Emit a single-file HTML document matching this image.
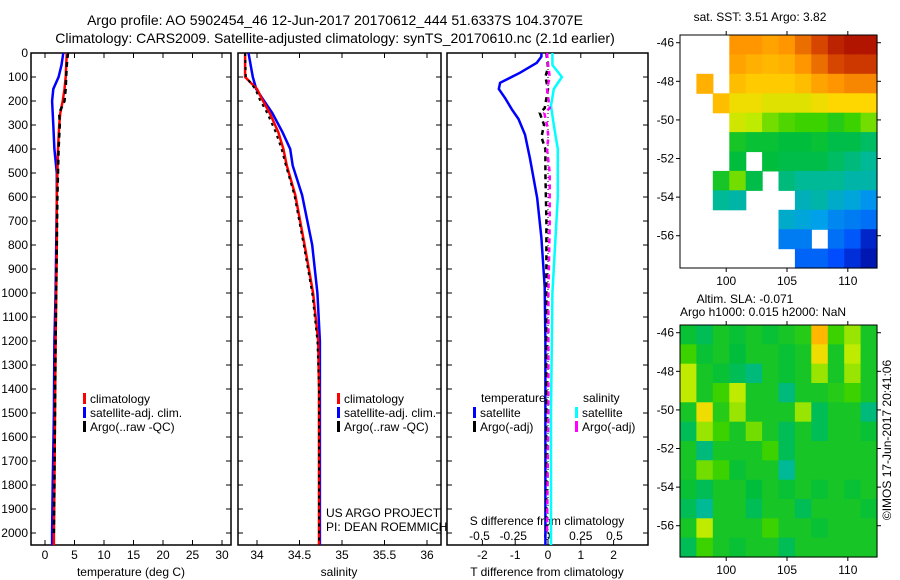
<!DOCTYPE html>
<html><head><meta charset="utf-8"><style>
body{margin:0;background:#fff;}
svg{display:block;font-family:"Liberation Sans",sans-serif;}
text{fill:#000;}
</style></head><body>
<svg id="chart" width="900" height="580" viewBox="0 0 900 580">
<text x="335" y="25" font-size="14" text-anchor="middle">Argo profile: AO 5902454_46 12-Jun-2017 20170612_444 51.6337S 104.3707E</text>
<text x="335" y="43" font-size="14" text-anchor="middle">Climatology: CARS2009. Satellite-adjusted climatology: synTS_20170610.nc (2.1d earlier)</text>
<text x="760" y="21" font-size="12" text-anchor="middle">sat. SST: 3.51 Argo: 3.82</text>
<text x="745" y="303" font-size="12" text-anchor="middle">Altim. SLA: -0.071</text>
<text x="763" y="316" font-size="12" text-anchor="middle">Argo h1000: 0.015 h2000: NaN</text>
<text transform="translate(891,440) rotate(-90)" font-size="12" text-anchor="middle">©IMOS 17-Jun-2017 20:41:06</text>
<text x="326" y="517" font-size="12">US ARGO PROJECT</text>
<text x="326" y="531" font-size="12">PI: DEAN ROEMMICH</text>
<g id="g"></g>
</svg>
<script>
// ---- data ----
const depthT = [0,50,100,150,200,250,300,400,500,600,800,1000,1200,1500,1800,2000,2050];
const climT  = [3.7,3.6,3.5,3.3,3.0,2.6,2.4,2.2,2.1,2.0,2.0,1.9,1.8,1.7,1.6,1.5,1.5];
const satT   = [3.1,2.8,2.3,1.4,1.2,1.3,1.4,1.6,2.0,2.0,1.9,1.8,1.6,1.5,1.3,1.2,1.2];
const argoDepth = [0,50,100,150,200,250,300,400,500,600,800,1000,1200,1500,1800,2000];
const argoT  = [3.9,3.7,3.6,3.5,3.3,2.4,2.5,2.3,2.2,2.1,2.0,1.9,1.8,1.7,1.6,1.5];
const depthS = [0,100,150,193,250,330,400,469,592,800,1000,1200,1400,2050];
const climS  = [33.86,33.86,34.0,34.06,34.15,34.25,34.31,34.35,34.45,34.56,34.66,34.72,34.73,34.73];
const satS   = [33.90,33.95,33.99,34.07,34.18,34.30,34.39,34.42,34.53,34.65,34.71,34.74,34.74,34.74];
const argoS  = [33.86,33.87,33.98,34.03,34.12,34.22,34.29,34.34,34.44,34.55,34.65,34.71,34.73,34.73];
const depthTd = [0,15,41,82,124,150,190,235,275,340,440,605,770,975,1200,1500,2000,2050];
const satTd   = [-0.2,-0.2,-0.34,-0.85,-1.46,-1.5,-1.3,-1.1,-0.9,-0.7,-0.55,-0.33,-0.2,-0.1,-0.08,-0.08,-0.08,-0.08];
const depthSd = [0,50,100,150,220,300,400,600,800,1000,1500,2050];
const satSd   = [0.04,0.04,0.11,0.05,0.03,0.05,0.08,0.08,0.06,0.04,0.03,0.03];
const depthAd = [0,60,100,150,230,250,300,350,400,500,700,1000,1500,2000];
const argoTd  = [-0.05,0.0,-0.08,0.0,-0.1,-0.25,-0.12,-0.2,-0.08,-0.08,-0.05,-0.05,-0.05,-0.05];
const argoSd  = [0.0,0.01,0.02,0.0,0.02,-0.02,0.0,0.01,0.0,0.02,0.02,0.01,0.01,0.0];
const depthTicks = [0,100,200,300,400,500,600,700,800,900,1000,1100,1200,1300,1400,1500,1600,1700,1800,1900,2000];
const tTicks = [0,5,10,15,20,25,30];
const sTicks = [34,34.5,35,35.5,36];
const tdTicks = [-2,-1,0,1,2];
const sdTicks = [-0.5,-0.25,0,0.25,0.5];
const sdTickLabels = ["-0.5","-0.25","0","0.25","0.5"];
const latTicks = [-46,-48,-50,-52,-54,-56];
const lonTicks = [100,105,110];
const sstGrid = [
 [null,null,null,.80,.80,.78,.80,.85,.90,.95,.97,.97],
 [null,null,null,.78,.76,.75,.76,.80,.85,.90,.92,.92],
 [null,.76,null,.74,.72,.72,.72,.74,.78,.80,.82,.82],
 [null,null,.74,.68,.68,.66,.66,.66,.68,.70,.70,.70],
 [null,null,null,.64,.62,.58,.56,.55,.55,.52,.55,.58],
 [null,null,null,.50,.48,.48,.47,.47,.48,.46,.46,.44],
 [null,null,null,.47,null,.47,.46,.46,.46,.44,.42,.40],
 [null,null,.50,.58,.46,null,.42,.40,.40,.40,.38,.38],
 [null,null,.40,.38,null,null,null,.36,.38,.34,.32,.28],
 [null,null,null,null,null,null,.34,.32,.30,.26,.24,.22],
 [null,null,null,null,null,null,.24,.24,null,.22,.18,.08],
 [null,null,null,null,null,null,null,.20,.20,.16,.10,.05]];
const slaGrid = [
 [.48,.45,.5,.48,.5,.48,.5,.52,.75,.55,.6,.5],
 [.55,.48,.5,.47,.5,.5,.48,.5,.68,.5,.62,.5],
 [.62,.5,.48,.45,.42,.5,.48,.5,.6,.5,.6,.5],
 [.62,.5,.55,.62,.5,.5,.42,.5,.5,.52,.55,.5],
 [.5,.68,.52,.6,.5,.5,.5,.6,.45,.5,.5,.42],
 [.45,.6,.55,.5,.58,.5,.45,.5,.45,.5,.5,.48],
 [.5,.42,.5,.5,.5,.55,.45,.5,.5,.5,.5,.5],
 [.5,.58,.55,.48,.5,.5,.4,.5,.5,.5,.5,.5],
 [.48,.45,.5,.5,.47,.5,.48,.5,.48,.5,.48,.5],
 [.45,.4,.5,.5,.45,.5,.5,.45,.5,.5,.5,.48],
 [.5,.62,.5,.5,.5,.55,.5,.5,.48,.5,.5,.5],
 [.45,.55,.5,.48,.5,.5,.45,.5,.5,.5,.5,.5]];

const NS="http://www.w3.org/2000/svg";
const G=document.getElementById('g');
function mk(tag,attrs,parent){const e=document.createElementNS(NS,tag);for(const k in attrs)e.setAttribute(k,attrs[k]);(parent||G).appendChild(e);return e;}
const TOP=53, BOT=545;
const yD = d => TOP + d*0.24;
const P1={l:31,r:231}, P2={l:238,r:441}, P3={l:447,r:648};
const xT = v => 45 + v*5.9;
const xS = v => 257 + (v-34)*85;
const xTd = v => 548 + v*32.8;
const xSd = v => 547 + v*135;

function panel(p,name){
  const r=mk('rect',{x:p.l,y:TOP,width:p.r-p.l,height:BOT-TOP,fill:'none',stroke:'#000','stroke-width':1.5});
  
  
  depthTicks.forEach(d=>{
    mk('line',{x1:p.l,x2:p.l+5,y1:yD(d),y2:yD(d),stroke:'#000'});
    mk('line',{x1:p.r,x2:p.r-5,y1:yD(d),y2:yD(d),stroke:'#000'});
  });
}
panel(P1,'temperature-panel');panel(P2,'salinity-panel');panel(P3,'difference-panel');
depthTicks.forEach(d=>{
  const t=mk('text',{x:28,y:yD(d)+4,'font-size':12,'text-anchor':'end'});t.textContent=d;
  
  
});
function xticks(ticks,fx,p,labels,ly,name){
  ticks.forEach((v,i)=>{
    const x=fx(v);
    mk('line',{x1:x,x2:x,y1:BOT,y2:BOT-5,stroke:'#000'});
    mk('line',{x1:x,x2:x,y1:TOP,y2:TOP+5,stroke:'#000'});
    const t=mk('text',{x:x,y:ly,'font-size':12,'text-anchor':'middle'});t.textContent=labels?labels[i]:v;
    
    
  });
}
xticks(tTicks,xT,P1,null,559,'temperature-tick-label');
xticks(sTicks,xS,P2,null,559,'salinity-tick-label');
xticks(tdTicks,xTd,P3,null,559,'tdiff-tick-label');
sdTicks.forEach((v,i)=>{const t=mk('text',{x:xSd(v),y:540,'font-size':12,'text-anchor':'middle'});t.textContent=sdTickLabels[i];
 
 });
[['temperature (deg C)',131,'temperature-axis-title'],['salinity',339,'salinity-axis-title'],['T difference from climatology',547,'tdiff-axis-title']].forEach(a=>{
 const t=mk('text',{x:a[1],y:576,'font-size':12,'text-anchor':'middle'});t.textContent=a[0];
 
 });
{const t=mk('text',{x:547,y:525,'font-size':12,'text-anchor':'middle'});t.textContent='S difference from climatology';
 
 }
mk('line',{x1:xTd(0),x2:xTd(0),y1:TOP,y2:BOT,stroke:'#000','stroke-dasharray':'1,3'});

function line(xs,ds,fx,color,w,dash,name){
  const pts=xs.map((v,i)=>fx(v).toFixed(1)+','+yD(ds[i]).toFixed(1)).join(' ');
  const a={points:pts,fill:'none',stroke:color,'stroke-width':w};
  if(dash)a['stroke-dasharray']=dash;
  const e=mk('polyline',a);
  
  
}
line(satT,depthT,xT,'#0000ff',2.5,null,'temperature-satellite-line');
line(climT,depthT,xT,'#ff0000',2.5,null,'temperature-climatology-line');
line(argoT,argoDepth,xT,'#000',2.5,'5,4','temperature-argo-line');
line(satS,depthS,xS,'#0000ff',2.5,null,'salinity-satellite-line');
line(climS,depthS,xS,'#ff0000',2.5,null,'salinity-climatology-line');
line(argoS,depthS,xS,'#000',2,'3,4','salinity-argo-line');
line(satTd,depthTd,xTd,'#0000ff',2.5,null,'tdiff-satellite-line');
line(satSd,depthSd,xSd,'#00ffff',2.5,null,'sdiff-satellite-line');
line(argoTd,depthAd,xTd,'#000',2.5,'5,4','tdiff-argo-line');
line(argoSd,depthAd,xSd,'#ff00ff',2.5,'5,4','sdiff-argo-line');

function legend(x,y,color,label,name){
  const r=mk('rect',{x:x,y:y-9,width:3,height:11,fill:color});
  
  
  const t=mk('text',{x:x+7,y:y+1,'font-size':12});t.textContent=label;
  
  
}
legend(83,402,'#ff0000','climatology','legend-climatology-1');
legend(83,416,'#0000ff','satellite-adj. clim.','legend-satellite-1');
legend(83,430,'#000','Argo(..raw -QC)','legend-argo-1');
legend(337,402,'#ff0000','climatology','legend-climatology-2');
legend(337,416,'#0000ff','satellite-adj. clim.','legend-satellite-2');
legend(337,430,'#000','Argo(..raw -QC)','legend-argo-2');
{const t=mk('text',{x:481,y:402,'font-size':12});t.textContent='temperature';}
{const t=mk('text',{x:583,y:402,'font-size':12});t.textContent='salinity';}
legend(473,416,'#0000ff','satellite','legend-t-satellite');
legend(473,430,'#000','Argo(-adj)','legend-t-argo');
legend(575,416,'#00ffff','satellite','legend-s-satellite');
legend(575,430,'#ff00ff','Argo(-adj)','legend-s-argo');

// colormap stops (navy->blue->cyan->green->yellow->orange->darkred)
const cmapStops=[[0,[0,0,140]],[0.15,[0,70,255]],[0.3,[0,160,235]],[0.4,[0,185,150]],[0.47,[0,190,60]],[0.55,[60,210,0]],[0.62,[190,235,0]],[0.7,[255,215,0]],[0.8,[255,150,0]],[0.9,[215,70,0]],[1,[160,0,0]]];
function cmap(v){
  for(let i=1;i<cmapStops.length;i++){
    if(v<=cmapStops[i][0]){const a=cmapStops[i-1],b=cmapStops[i];const t=(v-a[0])/(b[0]-a[0]);
      const c=a[1].map((x,k)=>Math.round(x+(b[1][k]-x)*t));return `rgb(${c[0]},${c[1]},${c[2]})`;}
  }
  return 'rgb(160,0,0)';
}
const MX0=680, MX1=877, LON0=96.2, LON1=112.4;
const xLon = v => MX0 + (v-LON0)*(MX1-MX0)/(LON1-LON0);
function map(grid,top,bot,lat0,name){
  const yLat = v => top + (lat0 - v)*19.3;
  const rows=grid.length, cols=grid[0].length;
  const cw=(MX1-MX0)/cols, ch=(bot-top)/rows;
  grid.forEach((row,i)=>row.forEach((v,j)=>{
    if(v===null)return;
    const r=mk('rect',{x:(MX0+j*cw).toFixed(1),y:(top+i*ch).toFixed(1),width:(cw+0.6).toFixed(1),height:(ch+0.6).toFixed(1),fill:cmap(v)});
    
    
  }));
  const f=mk('rect',{x:MX0,y:top,width:MX1-MX0,height:bot-top,fill:'none',stroke:'#000','stroke-width':1});
  
  
  latTicks.forEach(v=>{const y=yLat(v);
    mk('line',{x1:MX0-4,x2:MX0,y1:y,y2:y,stroke:'#000'});
    mk('line',{x1:MX1,x2:MX1+4,y1:y,y2:y,stroke:'#000'});
    const t=mk('text',{x:MX0-6,y:y+4,'font-size':12,'text-anchor':'end'});t.textContent=v;
    
    });
  lonTicks.forEach(v=>{const x=xLon(v);
    mk('line',{x1:x,x2:x,y1:top-4,y2:top,stroke:'#000'});
    mk('line',{x1:x,x2:x,y1:bot,y2:bot+4,stroke:'#000'});
    const t=mk('text',{x:x,y:bot+17,'font-size':12,'text-anchor':'middle'});t.textContent=v;
    
    });
}
map(sstGrid,35,268,-45.6,'sst-map');
map(slaGrid,325,557,-45.6,'sla-map');
</script>
</body></html>
